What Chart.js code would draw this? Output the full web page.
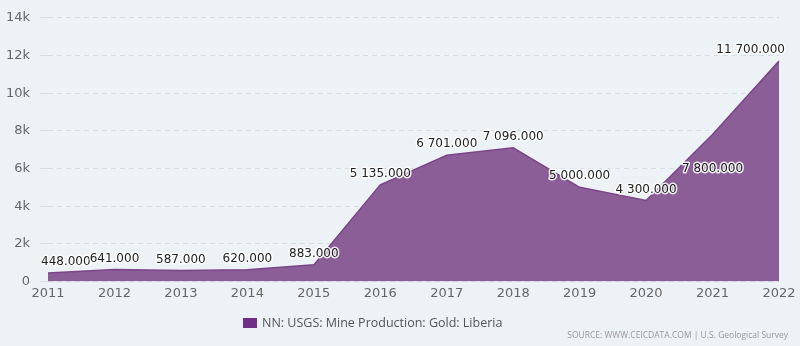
<!DOCTYPE html>
<html>
<head>
<meta charset="utf-8">
<script src="https://cdn.jsdelivr.net/npm/chart.js@4/dist/chart.umd.min.js"></script>
<style>
  html, body { margin: 0; padding: 0; background: #edf2f7; }
  #wrap { position: relative; width: 800px; height: 346px; background: #edf2f7; overflow: hidden; }
  #goldChart { position: absolute; left: 0; top: 0; }
  #legend { position: absolute; left: 243px; top: 314px; font: 12.5px "Open Sans", sans-serif; color: #555; white-space: nowrap; }
  #legend .box { display: inline-block; width: 14px; height: 10px; background: #6f2f85; margin-right: 5px; vertical-align: -1px; }
  #source { position: absolute; right: 12px; top: 329px; font: 8.5px "Open Sans", sans-serif; color: #999; white-space: nowrap; }
</style>
</head>
<body>
<div id="wrap">
  <canvas id="goldChart" width="800" height="346"></canvas>
  <div id="legend"></div>
  <div id="source"></div>
</div>
<script>
const years = ['2011', '2012', '2013', '2014', '2015', '2016', '2017', '2018', '2019', '2020', '2021', '2022'];
const production = [448, 641, 587, 620, 883, 5135, 6701, 7096, 5000, 4300, 7800, 11700];
const seriesName = 'NN: USGS: Mine Production: Gold: Liberia';
const sourceText = 'SOURCE: WWW.CEICDATA.COM | U.S. Geological Survey';
const yTicks = [0, 2000, 4000, 6000, 8000, 10000, 12000, 14000];

document.getElementById('legend').innerHTML = '<span class="box"></span>' + seriesName;
document.getElementById('source').innerText = sourceText;

// 11700 -> "11 700.000"
function fmt(v) {
    const parts = v.toFixed(3).split('.');
    return parts[0].replace(/\B(?=(\d{3})+(?!\d))/g, ' ') + '.' + parts[1];
}

// value labels above each point, kept inside the plot
const valueLabels = {
    id: 'valueLabels',
    afterDatasetsDraw(chart, args, opts) {
        const ctx = chart.ctx;
        const area = chart.chartArea;
        const meta = chart.getDatasetMeta(0);
        const data = chart.data.datasets[0].data;
        ctx.save();
        ctx.font = '12px "DejaVu Sans"';
        ctx.textAlign = 'center';
        ctx.textBaseline = 'middle';
        ctx.lineJoin = 'round';
        meta.data.forEach((pt, i) => {
            const txt = fmt(data[i]);
            const w = ctx.measureText(txt).width;
            let x = pt.x;
            x = Math.max(x, area.left - 7 + w / 2);
            x = Math.min(x, area.right + 6 - w / 2);
            const y = pt.y - 11 + (opts.shift[i] || 0);
            ctx.strokeStyle = 'rgba(255,255,255,0.85)';
            ctx.lineWidth = 3;
            ctx.strokeText(txt, x, y);
            ctx.fillStyle = '#222';
            ctx.fillText(txt, x, y);
        });
        ctx.restore();
    }
};

new Chart(document.getElementById('goldChart'), {
    type: 'line',
    data: {
        labels: years,
        datasets: [{
            label: seriesName,
            data: production,
            fill: 'origin',
            backgroundColor: '#8b5e97',
            borderColor: '#7a4688',
            borderWidth: 1.5,
            pointRadius: 0,
            tension: 0
        }]
    },
    options: {
        responsive: false,
        animation: false,
        layout: { padding: { top: 6.7, right: 21, left: 0, bottom: 0 } },
        plugins: {
            legend: { display: false },
            tooltip: { enabled: false },
            valueLabels: { shift: { 10: 45 } }
        },
        scales: {
            x: {
                offset: false,
                grid: { display: false, drawTicks: false },
                border: { display: false },
                ticks: { font: { family: 'DejaVu Sans', size: 13 }, color: '#666', padding: 4, maxRotation: 0 },
                afterFit(scale) { scale.height = 64.5; }
            },
            y: {
                min: 0,
                max: 14000,
                afterBuildTicks(scale) { scale.ticks = yTicks.map(v => ({ value: v })); },
                grid: { color: '#d9dee4', tickLength: 8, tickColor: '#d9dee4' },
                border: { display: false, dash: [5, 4] },
                ticks: {
                    font: { family: 'DejaVu Sans', size: 13 },
                    color: '#666',
                    padding: 10,
                    callback: v => v === 0 ? '0' : (v / 1000) + 'k'
                },
                afterFit(scale) { scale.width = 48; }
            }
        }
    },
    plugins: [valueLabels]
});
</script>
</body>
</html>
